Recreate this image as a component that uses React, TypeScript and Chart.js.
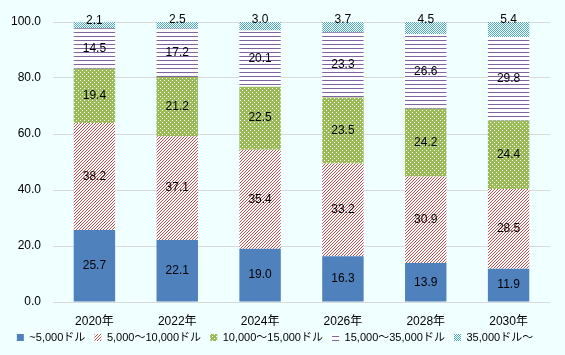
import React, { useEffect, useRef } from "react";
import { Chart, registerables } from "chart.js";

Chart.register(...registerables);

const categories = ["2020年", "2022年", "2024年", "2026年", "2028年", "2030年"];
const seriesNames = ["~5,000ドル", "5,000～10,000ドル", "10,000～15,000ドル", "15,000～35,000ドル", "35,000ドル～"];
const under5k = [25.7, 22.1, 19.0, 16.3, 13.9, 11.9];
const from5kTo10k = [38.2, 37.1, 35.4, 33.2, 30.9, 28.5];
const from10kTo15k = [19.4, 21.2, 22.5, 23.5, 24.2, 24.4];
const from15kTo35k = [14.5, 17.2, 20.1, 23.3, 26.6, 29.8];
const over35k = [2.1, 2.5, 3.0, 3.7, 4.5, 5.4];
const yTicks = [0, 20, 40, 60, 80, 100];

const FONT = "'Liberation Sans', Arial, 'Noto Sans CJK JP', sans-serif";

function makePattern(size: number, bg: string, fg: string, test: (x: number, y: number) => boolean) {
  const c = document.createElement("canvas");
  c.width = size;
  c.height = size;
  const ctx = c.getContext("2d")!;
  ctx.fillStyle = bg;
  ctx.fillRect(0, 0, size, size);
  ctx.fillStyle = fg;
  for (let y = 0; y < size; y++) {
    for (let x = 0; x < size; x++) {
      if (test(x, y)) ctx.fillRect(x, y, 1, 1);
    }
  }
  return ctx.createPattern(c, "repeat")!;
}

const labelPlugin = {
  id: "segLabels",
  afterDatasetsDraw(chart: any) {
    const ctx = chart.ctx;
    ctx.save();
    ctx.font = `12px ${FONT}`;
    ctx.fillStyle = "#000";
    ctx.textAlign = "center";
    ctx.textBaseline = "middle";
    const n = chart.data.datasets.length;
    chart.data.datasets.forEach((ds: any, di: number) => {
      const meta = chart.getDatasetMeta(di);
      meta.data.forEach((bar: any, i: number) => {
        const v = ds.data[i];
        const txt = v.toFixed(1);
        const top = Math.min(bar.y, bar.base);
        const bottom = Math.max(bar.y, bar.base);
        const y = di === n - 1 ? top - 2 : (top + bottom) / 2;
        ctx.fillText(txt, bar.x, y);
      });
    });
    ctx.restore();
  },
};

export default function App() {
  const ref = useRef<HTMLCanvasElement>(null);
  useEffect(() => {
    const red = makePattern(3, "#ffffff", "#C0504D", (x, y) => (x + y) % 3 === 2);
    const green = makePattern(4, "#9BBB59", "#ffffff", (x, y) => (x === 0 && y === 0) || (x === 2 && y === 2));
    const purple = makePattern(4, "#ffffff", "#8064A2", (x, y) => y === 0);
    const teal = makePattern(2, "#ffffff", "#4BACC6", (x, y) => (x + y) % 2 === 0);
    const fills = ["#4F81BD", red, green, purple, teal];
    const values = [under5k, from5kTo10k, from10kTo15k, from15kTo35k, over35k];
    const defaultGen = (Chart as any).defaults.plugins.legend.labels.generateLabels;
    const chart = new Chart(ref.current!, {
      type: "bar",
      data: {
        labels: categories,
        datasets: values.map((d, i) => ({
          label: seriesNames[i],
          data: d,
          backgroundColor: fills[i] as any,
          borderWidth: 0,
          barPercentage: 0.5,
          categoryPercentage: 1,
        })),
      },
      options: {
        animation: false,
        responsive: false,
        maintainAspectRatio: false,
        layout: { padding: { left: 0, right: 15, top: 22, bottom: 2 } },
        plugins: {
          legend: {
            position: "bottom",
            labels: {
              boxWidth: 7,
              boxHeight: 7,
              padding: 3,
              color: "#000",
              font: { size: 11, family: FONT },
              generateLabels: (c: any) =>
                defaultGen(c).map((l: any, i: number, arr: any[]) => ({
                  ...l,
                  text: i < arr.length - 1 ? l.text + "  " : l.text,
                })),
            },
          },
          tooltip: { enabled: false },
        },
        scales: {
          x: {
            stacked: true,
            grid: { display: false },
            border: { display: false },
            ticks: { color: "#000", font: { size: 12, family: FONT }, padding: 4 },
            afterFit: (axis: any) => {
              axis.height = 27;
            },
          },
          y: {
            stacked: true,
            min: 0,
            max: 100,
            afterBuildTicks: (axis: any) => {
              axis.ticks = yTicks.map((v) => ({ value: v }));
            },
            afterFit: (axis: any) => {
              axis.width = 53;
            },
            grid: { color: "#D9D9D9", drawTicks: false },
            border: { display: false },
            ticks: {
              color: "#000",
              font: { size: 12, family: FONT },
              padding: 12,
              callback: (v: any) => Number(v).toFixed(1),
            },
          },
        },
      },
      plugins: [labelPlugin],
    });
    return () => chart.destroy();
  }, []);
  return (
    <div style={{ position: "fixed", left: 0, top: 0, width: 565, height: 355, background: "#F0FFFF" }}>
      <canvas ref={ref} width={565} height={355} style={{ width: 565, height: 355 }} />
    </div>
  );
}
